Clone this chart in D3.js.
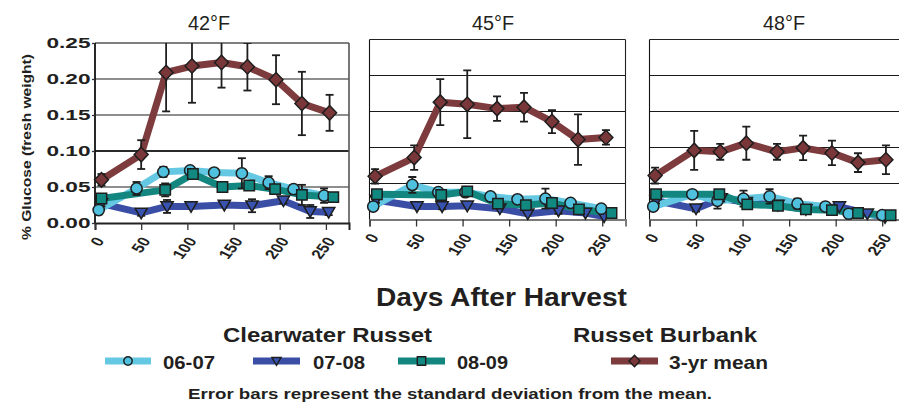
<!DOCTYPE html>
<html><head><meta charset="utf-8">
<script src="https://cdn.jsdelivr.net/npm/d3@7"></script>
<style>body{margin:0;background:#fff} svg{display:block}</style>
</head><body>
<svg id="c" width="899" height="404"></svg>
<script>
// ---------------- data ----------------
const panelTitles = ["42°F", "45°F", "48°F"];
const seriesNames = ["06-07", "07-08", "08-09", "3-yr mean"];
const groupTitles = ["Clearwater Russet", "Russet Burbank"];
const yTickValues = [0, 0.05, 0.10, 0.15, 0.20, 0.25];
const xTickValues = [0, 50, 100, 150, 200, 250];
const xAxisTitle = "Days After Harvest";
const yAxisTitle = "% Glucose (fresh weight)";
const footnote = "Error bars represent the standard deviation from the mean.";

// each point: [days after harvest, % glucose, standard deviation]
const cw0607_42 = [[4,0.018,0.006],[45,0.048,0.009],[74,0.071,0.007],[103,0.073,0.005],[129,0.070,0.004],[159,0.069,0.021],[188,0.056,0.009],[215,0.047,0.006],[248,0.038,0.010]];
const cw0708_42 = [[7,0.027,0.004],[50,0.014,0.004],[78,0.023,0.009],[104,0.023,0.003],[140,0.025,0.003],[170,0.024,0.009],[204,0.031,0.004],[233,0.016,0.009],[253,0.015,0.004]];
const cw0809_42 = [[7,0.034,0.006],[76,0.046,0.009],[106,0.068,0.006],[138,0.050,0.004],[167,0.052,0.005],[195,0.047,0.005],[224,0.039,0.014],[258,0.036,0.004]];
const rbMean_42 = [[7,0.060,0.008],[50,0.095,0.020],[77,0.209,0.054],[105,0.218,0.051],[137,0.223,0.035],[165,0.217,0.033],[196,0.199,0.034],[224,0.166,0.044],[254,0.153,0.025]];

const cw0607_45 = [[4,0.018,0.004],[46,0.048,0.011],[74,0.038,0.004],[103,0.038,0.004],[130,0.032,0.003],[159,0.028,0.003],[189,0.029,0.014],[216,0.023,0.004],[249,0.015,0.003]];
const cw0708_45 = [[7,0.027,0.004],[51,0.018,0.003],[78,0.018,0.004],[105,0.019,0.003],[140,0.015,0.003],[170,0.008,0.003],[203,0.012,0.004],[232,0.009,0.003],[252,0.004,0.002]];
const cw0809_45 = [[8,0.035,0.004],[77,0.034,0.006],[105,0.039,0.004],[138,0.022,0.004],[168,0.020,0.004],[196,0.023,0.006],[225,0.014,0.003],[260,0.009,0.003]];
const rbMean_45 = [[6,0.060,0.010],[48,0.086,0.017],[76,0.163,0.032],[105,0.160,0.047],[137,0.154,0.017],[166,0.156,0.020],[196,0.136,0.016],[224,0.111,0.035],[254,0.114,0.010]];

const cw0607_48 = [[4,0.018,0.004],[46,0.035,0.004],[73,0.026,0.011],[101,0.029,0.011],[129,0.032,0.010],[159,0.022,0.007],[189,0.018,0.004],[214,0.008,0.003],[250,0.006,0.003]];
const cw0708_48 = [[7,0.026,0.004],[50,0.015,0.004],[77,0.029,0.004],[104,0.024,0.003],[138,0.020,0.003],[168,0.014,0.003],[204,0.018,0.003],[234,0.008,0.003],[253,0.003,0.002]];
const cw0809_48 = [[7,0.035,0.004],[75,0.035,0.004],[105,0.021,0.004],[138,0.019,0.003],[168,0.014,0.003],[196,0.013,0.003],[224,0.009,0.003],[259,0.006,0.002]];
const rbMean_48 = [[6,0.061,0.011],[48,0.096,0.027],[76,0.094,0.011],[104,0.106,0.023],[137,0.094,0.011],[165,0.0995,0.017],[196,0.0925,0.017],[224,0.079,0.013],[254,0.083,0.020]];

// ---------------- layout / style ----------------
const FONT = "'Liberation Sans', Arial, Helvetica, sans-serif";
const styles = [
  {line:"#64c8e3", fill:"#4fc1df", shape:"circle"},
  {line:"#3a4ea6", fill:"#3953b0", shape:"triangle"},
  {line:"#13877f", fill:"#118880", shape:"square"},
  {line:"#7d3b3d", fill:"#7a3739", shape:"diamond"}
];
const panels = [
  {title:panelTitles[0], x0:95,  x1:349, yb:223,   yt:43,   tx:209, first:true,  data:[cw0607_42,cw0708_42,cw0809_42,rbMean_42]},
  {title:panelTitles[1], x0:369.5, x1:625.5, yb:219.5, yt:39.5, tx:493, first:false, data:[cw0607_45,cw0708_45,cw0809_45,rbMean_45]},
  {title:panelTitles[2], x0:649.5, x1:905.5, yb:219.5, yt:39.5, tx:784, first:false, data:[cw0607_48,cw0708_48,cw0809_48,rbMean_48]}
];

function shapePath(shape, s) {
  if (shape === "circle") return d3.symbol(d3.symbolCircle, Math.PI * s * s)();
  if (shape === "square") return `M${-s},${-s}H${s}V${s}H${-s}Z`;
  if (shape === "triangle") return `M${-s*1.1},${-s*0.85}H${s*1.1}L0,${s*1.05}Z`;
  if (shape === "diamond") return `M0,${-s*1.25}L${s*1.2},0L0,${s*1.25}L${-s*1.2},0Z`;
}
const markerSize = {circle:5.6, square:5.2, triangle:5.6, diamond:5.8};

const svg = d3.select("#c");
const defs = svg.append("defs");

panels.forEach((p, pi) => {
  const x = d3.scaleLinear().domain([0, 275]).range([p.x0, p.x1]);
  const y = d3.scaleLinear().domain([0, 0.25]).range([p.yb, p.yt]);
  const g = svg.append("g");

  // gridlines
  g.selectAll("line.grid").data(yTickValues.filter(v => v > 0 && v < 0.25)).join("line")
    .attr("x1", p.x0).attr("x2", p.x1).attr("y1", d => y(d)).attr("y2", d => y(d))
    .attr("stroke", d => p.first ? (Math.abs(d - 0.10) < 1e-9 ? "#2a2a2a" : "#8e8e8e") : "#1a1a1a")
    .attr("stroke-width", p.first ? 1.8 : 1.1);

  // frame
  g.append("line").attr("x1", p.x0).attr("x2", p.x1).attr("y1", p.yt).attr("y2", p.yt)
    .attr("stroke", p.first ? "#555" : "#222").attr("stroke-width", p.first ? 1.6 : 1.1);
  g.append("line").attr("x1", p.x1).attr("x2", p.x1).attr("y1", p.yt).attr("y2", p.yb)
    .attr("stroke", p.first ? "#555" : "#222").attr("stroke-width", p.first ? 1.6 : 1.1);
  g.append("line").attr("x1", p.x0).attr("x2", p.x0).attr("y1", p.yt).attr("y2", p.yb)
    .attr("stroke", "#111").attr("stroke-width", p.first ? 1.8 : 1.1);

  // x axis (bottom)
  const xa = g.append("g").attr("transform", `translate(0,${p.yb})`)
    .call(d3.axisBottom(x).tickValues(xTickValues).tickSize(7).tickFormat(""));
  xa.select(".domain").attr("stroke", p.first ? "#222" : "#7a7a7a").attr("stroke-width", 2);
  xa.selectAll(".tick line").attr("stroke", "#333").attr("stroke-width", 1.3);

  // rotated x tick labels
  g.selectAll("text.xt").data(xTickValues).join("text")
    .attr("transform", d => `translate(${x(d) + 10},${p.yb + 18}) scale(1.3,1) rotate(-58)`)
    .attr("text-anchor", "end")
    .attr("font-family", FONT).attr("font-weight", "bold").attr("font-size", 13.5)
    .attr("fill", "#231f20")
    .text(d => d);

  // y axis labels for the first panel
  if (p.first) {
    const ya = g.append("g").attr("transform", `translate(${p.x0},0)`)
      .call(d3.axisLeft(y).tickValues(yTickValues).tickSize(3).tickFormat(""));
    ya.select(".domain").remove();
    ya.selectAll(".tick line").attr("stroke", "#333").attr("stroke-width", 1.3);
    g.selectAll("text.yt").data(yTickValues).join("text")
      .attr("x", p.x0 - 4.5).attr("y", d => y(d) + 5.3)
      .attr("text-anchor", "end")
      .attr("font-family", FONT).attr("font-weight", "bold").attr("font-size", 15)
      .attr("textLength", 44).attr("lengthAdjust", "spacingAndGlyphs")
      .attr("fill", "#231f20")
      .text(d => d3.format(".2f")(d));
  }

  // panel title
  g.append("text").attr("x", p.tx).attr("y", 30).attr("text-anchor", "middle")
    .attr("font-family", FONT).attr("font-size", 20).attr("fill", "#231f20")
    .attr("textLength", 42).attr("lengthAdjust", "spacingAndGlyphs")
    .text(p.title);

  // clip region for data
  const cid = "clip" + pi;
  defs.append("clipPath").attr("id", cid).append("rect")
    .attr("x", p.x0 - 20).attr("y", p.yt).attr("width", p.x1 - p.x0 + 40).attr("height", p.yb - p.yt + 20);
  const dg = g.append("g").attr("clip-path", `url(#${cid})`);

  const line = d3.line().x(d => x(d[0])).y(d => y(d[1]));
  const drawErr = (gg, data) => {
    const eg = gg.append("g").attr("stroke", "#1e1e1e").attr("stroke-width", 1.8);
    data.filter(d => d[2] > 0.0035).forEach(d => {
      const cx = x(d[0]), top = y(d[1] + d[2]), bot = y(d[1] - d[2]);
      eg.append("line").attr("x1", cx).attr("x2", cx).attr("y1", top).attr("y2", bot);
      eg.append("line").attr("x1", cx - 4).attr("x2", cx + 4).attr("y1", top).attr("y2", top);
      eg.append("line").attr("x1", cx - 4).attr("x2", cx + 4).attr("y1", bot).attr("y2", bot);
    });
  };
  const drawMarkers = (gg, data, st) => {
    gg.append("g").selectAll("path").data(data).join("path")
      .attr("d", shapePath(st.shape, markerSize[st.shape]))
      .attr("transform", d => `translate(${x(d[0])},${y(d[1])})`)
      .attr("fill", st.fill).attr("stroke", "#1e1e1e").attr("stroke-width", 1.5);
  };

  const order = [1, 0, 2];
  order.forEach(si => {
    dg.append("path").datum(p.data[si]).attr("d", line)
      .attr("fill", "none").attr("stroke", styles[si].line).attr("stroke-width", 7)
      .attr("stroke-linejoin", "round");
  });
  order.forEach(si => drawErr(dg, p.data[si]));
  order.forEach(si => drawMarkers(dg, p.data[si], styles[si]));
  dg.append("path").datum(p.data[3]).attr("d", line)
    .attr("fill", "none").attr("stroke", styles[3].line).attr("stroke-width", 7)
    .attr("stroke-linejoin", "round");
  drawErr(dg, p.data[3]);
  drawMarkers(dg, p.data[3], styles[3]);
});

// y axis title
svg.append("text")
  .attr("transform", "translate(31,147) rotate(-90)")
  .attr("text-anchor", "middle")
  .attr("font-family", FONT).attr("font-weight", "bold").attr("font-size", 13.5)
  .attr("textLength", 186).attr("lengthAdjust", "spacingAndGlyphs")
  .attr("fill", "#231f20")
  .text(yAxisTitle);

// x axis title
svg.append("text").attr("x", 501.5).attr("y", 306).attr("text-anchor", "middle")
  .attr("font-family", FONT).attr("font-weight", "bold").attr("font-size", 26)
  .attr("textLength", 251).attr("lengthAdjust", "spacingAndGlyphs")
  .attr("fill", "#231f20").text(xAxisTitle);

// legend group titles
const gt = [{t:groupTitles[0], x:327.5, w:209}, {t:groupTitles[1], x:665, w:184}];
svg.selectAll("text.gt").data(gt).join("text")
  .attr("x", d => d.x).attr("y", 342).attr("text-anchor", "middle")
  .attr("font-family", FONT).attr("font-weight", "bold").attr("font-size", 21)
  .attr("textLength", d => d.w).attr("lengthAdjust", "spacingAndGlyphs")
  .attr("fill", "#231f20").text(d => d.t);

// legend entries
const legendItems = [
  {x0:105, x1:151, tx:163, tw:52},
  {x0:253, x1:300, tx:313, tw:52},
  {x0:398, x1:445, tx:457, tw:51},
  {x0:611, x1:658, tx:669, tw:99}
];
const legendMarkerSize = {circle:4.2, square:4.2, triangle:4.2, diamond:4.6};
legendItems.forEach((it, i) => {
  const st = styles[i];
  const lg = svg.append("g");
  lg.append("line").attr("x1", it.x0).attr("x2", it.x1).attr("y1", 361).attr("y2", 361)
    .attr("stroke", st.line).attr("stroke-width", 7);
  lg.append("path").attr("d", shapePath(st.shape, legendMarkerSize[st.shape]))
    .attr("transform", `translate(${(it.x0 + it.x1) / 2},361)`)
    .attr("fill", st.fill).attr("stroke", "#1e1e1e").attr("stroke-width", 1.4);
  lg.append("text").attr("x", it.tx).attr("y", 369)
    .attr("font-family", FONT).attr("font-weight", "bold").attr("font-size", 19)
    .attr("textLength", it.tw).attr("lengthAdjust", "spacingAndGlyphs")
    .attr("fill", "#231f20").text(seriesNames[i]);
});

// footnote
svg.append("text").attr("x", 450).attr("y", 399).attr("text-anchor", "middle")
  .attr("font-family", FONT).attr("font-weight", "bold").attr("font-size", 15)
  .attr("textLength", 524).attr("lengthAdjust", "spacingAndGlyphs")
  .attr("fill", "#231f20").text(footnote);
</script>
</body></html>
